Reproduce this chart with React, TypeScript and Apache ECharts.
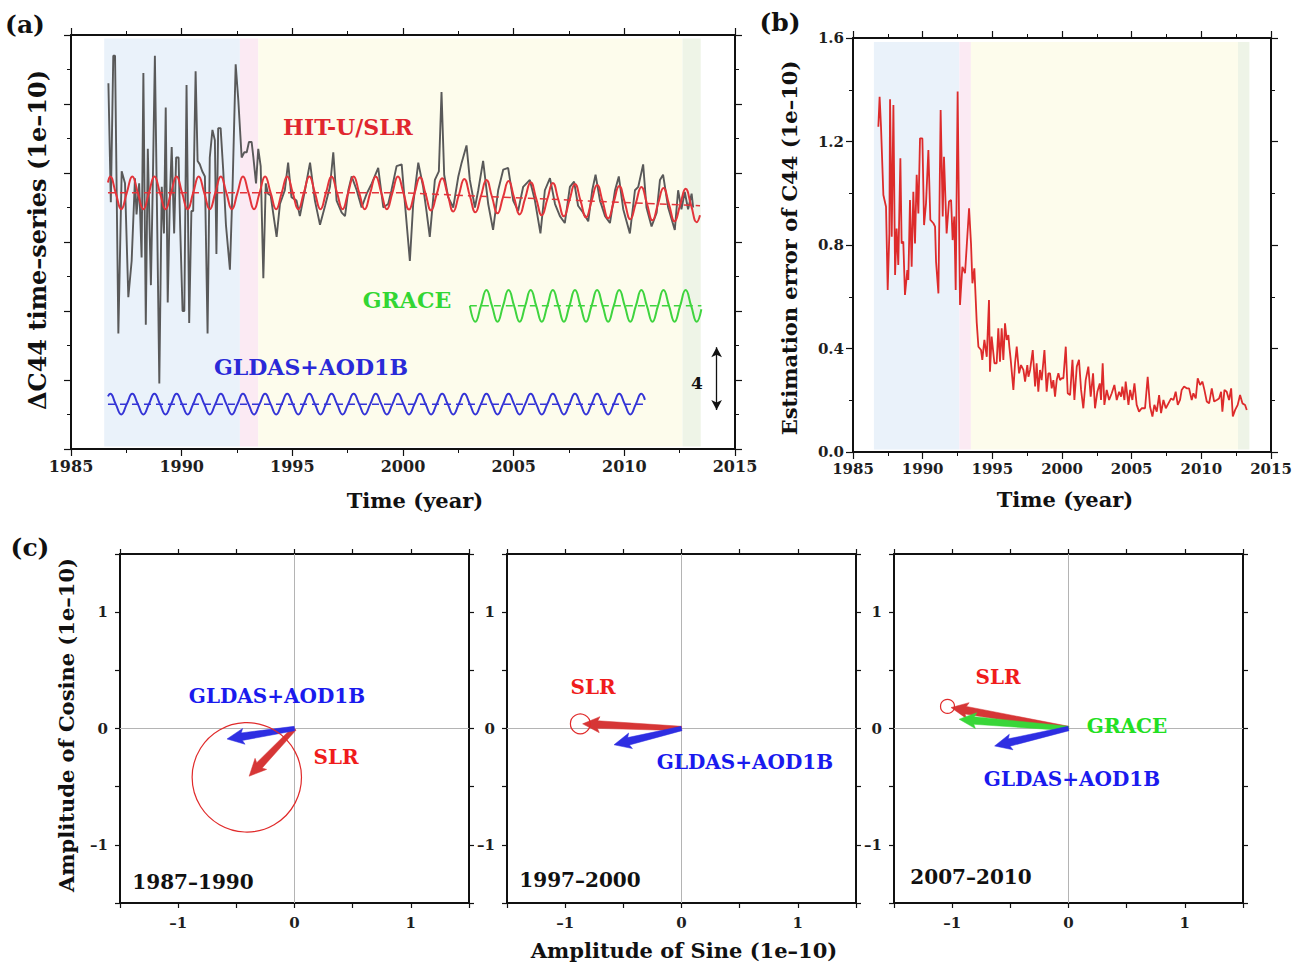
import React, { useEffect, useRef } from "react";
import * as echarts from "echarts";

const FONT = '"DejaVu Serif", "Liberation Serif", serif';

// ---------- Panel (a) data ----------
const grayYears = [
  1986.69, 1986.8, 1986.91, 1986.99, 1987.14, 1987.29, 1987.44, 1987.59, 1987.74, 1987.89,
  1987.96, 1988.08, 1988.19, 1988.27, 1988.38, 1988.47, 1988.61, 1988.7, 1988.79, 1988.9,
  1988.99, 1989.1, 1989.2, 1989.28, 1989.37, 1989.47, 1989.55, 1989.66, 1989.75, 1989.86,
  1989.93, 1990.04, 1990.12, 1990.22, 1990.34, 1990.44, 1990.52, 1990.63, 1990.72, 1990.82,
  1990.93, 1991.05, 1991.17, 1991.27, 1991.39, 1991.5, 1991.57, 1991.65, 1991.76, 1991.88,
  1992.0, 1992.18, 1992.3, 1992.44, 1992.56, 1992.71, 1992.83, 1992.94, 1993.04, 1993.16,
  1993.24, 1993.36, 1993.46, 1993.57, 1993.69, 1993.8, 1993.9, 1994.02, 1994.29, 1994.44,
  1994.66, 1994.81, 1994.96, 1995.19, 1995.34, 1995.57, 1995.8, 1996.02, 1996.25, 1996.48,
  1996.7, 1996.85, 1997.0, 1997.23, 1997.38, 1997.53, 1997.68, 1997.91, 1998.13, 1998.36,
  1998.59, 1998.88, 1999.11, 1999.33, 1999.48, 1999.71, 1999.94, 2000.09, 2000.31, 2000.46,
  2000.69, 2000.91, 2001.06, 2001.21, 2001.44, 2001.62, 2001.74, 2001.86, 2002.04, 2002.27,
  2002.5, 2002.65, 2002.87, 2003.02, 2003.25, 2003.4, 2003.62, 2003.85, 2004.07, 2004.3,
  2004.53, 2004.75, 2004.98, 2005.2, 2005.43, 2005.73, 2005.96, 2006.21, 2006.41, 2006.64,
  2006.87, 2007.09, 2007.31, 2007.54, 2007.73, 2007.91, 2008.14, 2008.37, 2008.55, 2008.7,
  2008.9, 2009.13, 2009.35, 2009.58, 2009.75, 2009.95, 2010.25, 2010.48, 2010.63, 2010.85,
  2011.0, 2011.23, 2011.46, 2011.61, 2011.75, 2011.98, 2012.28, 2012.43, 2012.58, 2012.73,
  2012.88, 2013.04, 2013.11,
];
const grayValues = [
  21.2, 14.3, 22.8, 22.8, 6.7, 16.1, 15.4, 8.8, 10.9, 15.7,
  13.6, 15.4, 11.1, 21.8, 7.2, 17.4, 9.5, 15.7, 22.8, 12.5,
  3.8, 15.2, 12.5, 19.8, 8.5, 14.7, 17.5, 12.5, 16.9, 16.9,
  13.0, 8.0, 8.0, 21.1, 7.3, 13.8, 13.8, 21.9, 16.7, 16.5,
  16.1, 15.8, 6.7, 16.9, 18.5, 17.9, 11.3, 18.6, 18.6, 16.1,
  13.0, 10.4, 15.2, 22.3, 20.2, 16.9, 17.2, 17.2, 17.8, 17.8,
  16.9, 15.4, 17.4, 16.4, 9.9, 15.4, 14.8, 14.7, 12.3, 14.2,
  15.0, 16.6, 14.6, 14.4, 13.5, 15.0, 16.6, 14.4, 13.0, 14.1,
  15.2, 17.2, 14.4, 13.7, 13.5, 15.0, 15.8, 15.0, 14.0, 14.8,
  15.4, 16.3, 14.0, 14.2, 15.0, 16.4, 16.5, 14.2, 10.9, 14.2,
  16.6, 15.2, 13.8, 12.3, 15.6, 16.1, 20.7, 15.9, 14.6, 14.0,
  15.8, 16.6, 17.6, 15.6, 14.0, 15.0, 16.7, 14.2, 12.7, 15.0,
  16.2, 16.3, 14.4, 13.8, 15.2, 15.6, 14.4, 12.5, 15.0, 15.7,
  14.2, 13.5, 13.1, 15.2, 15.5, 14.1, 13.7, 13.2, 15.0, 15.9,
  14.4, 13.5, 13.1, 15.0, 15.8, 13.9, 12.5, 15.0, 15.2, 16.5,
  14.0, 12.9, 13.7, 15.6, 15.9, 14.0, 12.7, 15.0, 13.9, 14.9,
  13.9, 14.8, 14.0,
];

// HIT-U/SLR fitted annual signal, quarterly samples from 1986.77
const redFirst = [1986.67, 15.45];
const redQuarterStart = 1986.77;
const redQuarterly = [
  15.8,
  14.85, 13.9, 14.85, 15.8, // 1987
  14.85, 13.9, 14.85, 15.8, // 1988
  14.85, 13.9, 14.85, 15.8, // 1989
  14.85, 13.9, 14.85, 15.8, // 1990
  14.85, 13.9, 14.85, 15.8, // 1991
  14.85, 13.9, 14.85, 15.8, // 1992
  14.85, 13.9, 14.85, 15.8, // 1993
  14.85, 13.9, 14.85, 15.8, // 1994
  14.85, 13.9, 14.85, 15.8, // 1995
  14.85, 13.9, 14.85, 15.8, // 1996
  14.85, 13.9, 14.85, 15.8, // 1997
  14.85, 13.9, 14.85, 15.8, // 1998
  14.85, 13.9, 14.85, 15.8, // 1999
  14.85, 13.88, 14.82, 15.76, // 2000
  14.79, 13.83, 14.76, 15.7, // 2001
  14.74, 13.77, 14.71, 15.65, // 2002
  14.68, 13.72, 14.65, 15.59, // 2003
  14.62, 13.66, 14.6, 15.53, // 2004
  14.57, 13.6, 14.54, 15.47, // 2005
  14.51, 13.55, 14.48, 15.42, // 2006
  14.45, 13.49, 14.42, 15.36, // 2007
  14.4, 13.43, 14.37, 15.3, // 2008
  14.34, 13.37, 14.31, 15.25, // 2009
  14.28, 13.32, 14.25, 15.19, // 2010
  14.23, 13.26, 14.2, 15.13, // 2011
  14.17, 13.2, 14.14, 15.08, // 2012
  14.11, 13.15, // 2013
];
const redLast = [2013.42, 13.55];
const redTrendYears = [1986.67, 2000.0, 2013.42];
const redTrendValues = [14.85, 14.85, 14.1];

// GLDAS+AOD1B annual signal, quarterly from 1986.77
const blueFirst = [1986.67, 3.05];
const blueQuarterStart = 1986.77;
const blueQuarterly = [
  3.2,
  2.6, 2.0, 2.6, 3.2, 2.6, 2.0, 2.6, 3.2, 2.6, 2.0, 2.6, 3.2, 2.6, 2.0, 2.6, 3.2, // 1987-1990
  2.6, 2.0, 2.6, 3.2, 2.6, 2.0, 2.6, 3.2, 2.6, 2.0, 2.6, 3.2, 2.6, 2.0, 2.6, 3.2, // 1991-1994
  2.6, 2.0, 2.6, 3.2, 2.6, 2.0, 2.6, 3.2, 2.6, 2.0, 2.6, 3.2, 2.6, 2.0, 2.6, 3.2, // 1995-1998
  2.6, 2.0, 2.6, 3.2, 2.6, 2.0, 2.6, 3.2, 2.6, 2.0, 2.6, 3.2, 2.6, 2.0, 2.6, 3.2, // 1999-2002
  2.6, 2.0, 2.6, 3.2, 2.6, 2.0, 2.6, 3.2, 2.6, 2.0, 2.6, 3.2, 2.6, 2.0, 2.6, 3.2, // 2003-2006
  2.6, 2.0, 2.6, 3.2, 2.6, 2.0, 2.6, 3.2, 2.6, 2.0, 2.6, 3.2, 2.6, 2.0, 2.6, 3.2, // 2007-2010
];
const blueLast = [2010.93, 2.85];
const blueTrendYears = [1986.67, 2010.93];
const blueTrendValues = [2.6, 2.6];

// GRACE annual signal, quarterly from 2003.02
const greenQuarterStart = 2003.02;
const greenQuarterly = [
  8.3, 7.38, 8.3, 9.22, 8.3, 7.38, 8.3, 9.22, 8.3, 7.38, 8.3, 9.22, // 2003-2005
  8.3, 7.38, 8.3, 9.22, 8.3, 7.38, 8.3, 9.22, 8.3, 7.38, 8.3, 9.22, // 2006-2008
  8.3, 7.38, 8.3, 9.22, 8.3, 7.38, 8.3, 9.22, 8.3, 7.38, 8.3, 9.22, // 2009-2011
  8.3, 7.38, 8.3, 9.22, 8.3, 7.38, // 2012-2013.27
];
const greenLast = [2013.48, 8.1];
const greenTrendYears = [2003.02, 2013.48];
const greenTrendValues = [8.3, 8.3];

// Shaded periods
const bandStarts = [1986.5, 1992.63, 1993.46, 2012.63];
const bandEnds = [1992.63, 1993.46, 2012.63, 2013.45];
const bandColors = ["#eaf2fa", "#fbeaf3", "#fdfcec", "#eef4e7"];

// ---------- Panel (b) data ----------
const errYears = [
  1986.82, 1986.91, 1987.01, 1987.18, 1987.37, 1987.49, 1987.61, 1987.66, 1987.78, 1987.9,
  1988.02, 1988.13, 1988.25, 1988.4, 1988.49, 1988.61, 1988.73, 1988.9, 1988.97, 1989.09,
  1989.21, 1989.33, 1989.45, 1989.57, 1989.69, 1989.81, 1989.98, 1990.1, 1990.24, 1990.41,
  1990.55, 1990.77, 1990.89, 1990.96, 1991.13, 1991.29, 1991.44, 1991.53, 1991.72, 1991.89,
  1992.04, 1992.15, 1992.27, 1992.37, 1992.51, 1992.68, 1992.85, 1993.04, 1993.16, 1993.33,
  1993.47, 1993.57, 1993.71, 1993.88, 1994.0, 1994.19, 1994.28, 1994.43, 1994.6, 1994.76,
  1994.83, 1994.95, 1995.15, 1995.31, 1995.43, 1995.55, 1995.67, 1995.79, 1995.91, 1996.03,
  1996.15, 1996.22, 1996.32, 1996.51, 1996.63, 1996.75, 1996.92, 1997.06, 1997.23, 1997.35,
  1997.51, 1997.59, 1997.71, 1997.9, 1998.07, 1998.18, 1998.3, 1998.42, 1998.54, 1998.74,
  1998.9, 1999.02, 1999.14, 1999.26, 1999.38, 1999.5, 1999.62, 1999.74, 1999.86, 1999.98,
  2000.1, 2000.27, 2000.41, 2000.58, 2000.75, 2000.89, 2001.06, 2001.22, 2001.37, 2001.53,
  2001.7, 2001.89, 2002.06, 2002.23, 2002.37, 2002.54, 2002.71, 2002.8, 2002.92, 2003.04,
  2003.21, 2003.38, 2003.57, 2003.76, 2003.93, 2004.1, 2004.24, 2004.33, 2004.48, 2004.57,
  2004.77, 2004.89, 2005.05, 2005.2, 2005.36, 2005.53, 2005.72, 2005.96, 2006.15, 2006.32,
  2006.49, 2006.63, 2006.8, 2006.97, 2007.11, 2007.28, 2007.45, 2007.64, 2007.83, 2008.0,
  2008.16, 2008.31, 2008.47, 2008.59, 2008.76, 2008.95, 2009.12, 2009.31, 2009.43, 2009.6,
  2009.74, 2009.91, 2010.08, 2010.22, 2010.39, 2010.56, 2010.75, 2010.92, 2011.11, 2011.27,
  2011.42, 2011.51, 2011.66, 2011.82, 2011.99, 2012.14, 2012.26, 2012.42, 2012.61, 2012.78,
  2012.95, 2013.14, 2013.26,
];
const errValues = [
  1.257, 1.373, 1.257, 0.993, 0.948, 0.626, 0.845, 1.363, 0.832, 1.341,
  0.684, 0.864, 0.723, 1.135, 0.806, 0.813, 0.607, 0.703, 0.665, 0.974,
  0.716, 1.006, 0.806, 1.071, 0.922, 1.212, 1.212, 0.877, 0.961, 1.167,
  0.897, 0.884, 0.871, 0.736, 0.613, 1.322, 0.91, 1.141, 0.845, 0.968,
  0.974, 0.819, 0.91, 0.626, 1.393, 0.568, 0.716, 0.691, 0.794, 0.942,
  0.806, 0.652, 0.71, 0.5, 0.407, 0.394, 0.356, 0.433, 0.368, 0.587,
  0.31, 0.446, 0.343, 0.343, 0.478, 0.349, 0.478, 0.356, 0.497, 0.433,
  0.452, 0.407, 0.356, 0.24, 0.343, 0.407, 0.304, 0.336, 0.317, 0.272,
  0.336, 0.291, 0.317, 0.394, 0.253, 0.343, 0.233, 0.317, 0.278, 0.394,
  0.233, 0.304, 0.304, 0.246, 0.278, 0.214, 0.278, 0.304, 0.278, 0.285,
  0.285, 0.407, 0.227, 0.22, 0.356, 0.201, 0.33, 0.356, 0.24, 0.169,
  0.278, 0.33, 0.214, 0.304, 0.169, 0.233, 0.265, 0.201, 0.343, 0.182,
  0.24, 0.201, 0.227, 0.259, 0.201, 0.233, 0.214, 0.253, 0.201, 0.272,
  0.182, 0.24, 0.201, 0.265, 0.182, 0.156, 0.169, 0.169, 0.291, 0.175,
  0.137, 0.182, 0.156, 0.22, 0.15, 0.201, 0.169, 0.188, 0.207, 0.201,
  0.233, 0.182, 0.201, 0.24, 0.253, 0.246, 0.246, 0.201, 0.227, 0.207,
  0.285, 0.259, 0.272, 0.24, 0.195, 0.188, 0.246, 0.195, 0.201, 0.207,
  0.233, 0.156, 0.24, 0.233, 0.201, 0.246, 0.137, 0.162, 0.182, 0.22,
  0.188, 0.182, 0.162,
];

// ---------- Panel (c) data: phasor tips [sine, cosine] ----------
const periodLabels = ["1987–1990", "1997–2000", "2007–2010"];
const slrTips = [[-0.39, -0.41], [-0.85, 0.04], [-1.01, 0.18]];
const slrErrRadius = [0.47, 0.085, 0.06];
const slrErrCenter = [[-0.41, -0.42], [-0.87, 0.04], [-1.04, 0.19]];
const gldasTips = [[-0.58, -0.09], [-0.58, -0.14], [-0.635, -0.15]];
const graceTips = [null, null, [-0.94, 0.08]];

const C_RED = "#e3343a";
const C_BLUE = "#3434d6";
const C_GREEN = "#3fd43f";
const ARROW_RED = "#d63636";
const ARROW_BLUE = "#2e2ee2";
const ARROW_GREEN = "#39d639";

function quarterly(start: number, vals: number[]) {
  return vals.map((v, i) => [start + i * 0.25, v]);
}
function pairs(xs: number[], ys: number[]) {
  return xs.map((x, i) => [x, ys[i]]);
}

function axisCommon(fontSize: number) {
  return {
    type: "value",
    axisLine: { show: true, onZero: false, lineStyle: { color: "#111", width: 2 } },
    axisTick: { show: true, length: 7, lineStyle: { color: "#111", width: 1.2 } },
    splitLine: { show: false },
    minorSplitLine: { show: false },
    axisLabel: {
      fontFamily: FONT,
      fontWeight: "bold",
      fontSize,
      color: "#1e1e1e",
      margin: 9,
    },
  } as any;
}

function timeX(gridIndex: number, position: string, showLabel: boolean, fontSize: number) {
  const a = axisCommon(fontSize);
  return {
    ...a,
    gridIndex,
    position,
    min: 1985,
    max: 2015,
    interval: 5,
    minorTick: { show: true, splitNumber: 2, length: 4, lineStyle: { color: "#111", width: 1 } },
    axisLabel: { ...a.axisLabel, show: showLabel, formatter: (v: number) => String(Math.round(v)) },
  };
}

const intLabel = (v: number) => {
  if (Math.abs(v - Math.round(v)) > 1e-6) return "";
  const r = Math.round(v);
  return r < 0 ? "–" + -r : String(r);
};

function phasorAxis(gridIndex: number, position: string, showLabel: boolean) {
  const a = axisCommon(15);
  return {
    ...a,
    gridIndex,
    position,
    min: -1.5,
    max: 1.5,
    interval: 0.5,
    axisTick: { show: true, length: 5, lineStyle: { color: "#111", width: 1.2 } },
    axisLabel: { ...a.axisLabel, show: showLabel, formatter: intLabel, margin: 12 },
  };
}

function text(t: string, x: number, y: number, size: number, color = "#111", rotate = false, weight = "bold") {
  return {
    type: "text",
    x,
    y,
    rotation: rotate ? Math.PI / 2 : 0,
    silent: true,
    style: {
      text: t,
      fill: color,
      font: `${weight} ${size}px ${FONT}`,
      align: "center",
      verticalAlign: "middle",
    },
    z: 100,
  };
}

function bandSeries(xi: number, yi: number, yLow: number, yHigh: number) {
  return {
    type: "custom",
    xAxisIndex: xi,
    yAxisIndex: yi,
    silent: true,
    z: 0,
    renderItem: (params: any, api: any) => {
      const p0 = api.coord([api.value(0), api.value(3)]);
      const p1 = api.coord([api.value(1), api.value(2)]);
      return {
        type: "rect",
        shape: { x: p0[0], y: p0[1], width: p1[0] - p0[0], height: p1[1] - p0[1] },
        style: { fill: bandColors[params.dataIndex] },
      };
    },
    data: bandStarts.map((s, i) => [s, bandEnds[i], yLow, yHigh]),
  };
}

function arrowSeries(gi: number, tip: number[], color: string, z: number) {
  return {
    type: "custom",
    xAxisIndex: gi * 2 + 4,
    yAxisIndex: gi * 2 + 4,
    silent: true,
    z,
    renderItem: (_p: any, api: any) => {
      const p0 = api.coord([0, 0]);
      const p1 = api.coord([api.value(0), api.value(1)]);
      const dx = p1[0] - p0[0];
      const dy = p1[1] - p0[1];
      const L = Math.hypot(dx, dy) || 1;
      const ux = dx / L, uy = dy / L;
      const nx = -uy, ny = ux;
      const headL = 15, headW = 8, w0 = 2.2, w1 = 3.8;
      const bx = p1[0] - ux * headL, by = p1[1] - uy * headL;
      const pts = [
        [p0[0] + nx * w0, p0[1] + ny * w0],
        [bx + nx * w1, by + ny * w1],
        [bx + nx * headW - ux * 2, by + ny * headW - uy * 2],
        [p1[0], p1[1]],
        [bx - nx * headW - ux * 2, by - ny * headW - uy * 2],
        [bx - nx * w1, by - ny * w1],
        [p0[0] - nx * w0, p0[1] - ny * w0],
      ];
      return {
        type: "polygon",
        shape: { points: pts },
        style: { fill: color, stroke: color, lineWidth: 0.5 },
      };
    },
    data: [tip],
  };
}

function circleSeries(gi: number, center: number[], r: number) {
  return {
    type: "custom",
    xAxisIndex: gi * 2 + 4,
    yAxisIndex: gi * 2 + 4,
    silent: true,
    z: 10,
    renderItem: (_p: any, api: any) => {
      const c = api.coord([api.value(0), api.value(1)]);
      const rp = api.size([api.value(2), 0])[0];
      return {
        type: "circle",
        shape: { cx: c[0], cy: c[1], r: rp },
        style: { fill: "none", stroke: "#e02a2a", lineWidth: 1.2 },
      };
    },
    data: [[center[0], center[1], r]],
  };
}

function crossSeries(gi: number) {
  const base = {
    type: "line",
    xAxisIndex: gi * 2 + 4,
    yAxisIndex: gi * 2 + 4,
    showSymbol: false,
    silent: true,
    z: 1,
    lineStyle: { color: "#b4b4b4", width: 1 },
  };
  return [
    { ...base, data: [[-1.5, 0], [1.5, 0]] },
    { ...base, data: [[0, -1.5], [0, 1.5]] },
  ];
}

function buildOption() {
  const grids = [
    { left: 71, top: 35, width: 664, height: 414 },
    { left: 853, top: 38, width: 418, height: 414 },
    { left: 120, top: 554, width: 349, height: 349 },
    { left: 507, top: 554, width: 349, height: 349 },
    { left: 894, top: 554, width: 349, height: 349 },
  ];

  const xAxis: any[] = [
    timeX(0, "bottom", true, 16),
    timeX(0, "top", false, 16),
    timeX(1, "bottom", true, 15),
    timeX(1, "top", false, 15),
  ];
  const yA = axisCommon(15);
  const yAxis: any[] = [
    {
      ...yA, gridIndex: 0, position: "left", min: 0, max: 24, interval: 4,
      minorTick: { show: true, splitNumber: 2, length: 4, lineStyle: { color: "#111", width: 1 } },
      axisLabel: { show: false },
    },
    {
      ...yA, gridIndex: 0, position: "right", min: 0, max: 24, interval: 4,
      minorTick: { show: true, splitNumber: 2, length: 4, lineStyle: { color: "#111", width: 1 } },
      axisLabel: { show: false },
    },
    {
      ...yA, gridIndex: 1, position: "left", min: 0, max: 1.6, interval: 0.4,
      minorTick: { show: true, splitNumber: 2, length: 4, lineStyle: { color: "#111", width: 1 } },
      axisLabel: { ...yA.axisLabel, formatter: (v: number) => v.toFixed(1) },
    },
    {
      ...yA, gridIndex: 1, position: "right", min: 0, max: 1.6, interval: 0.4,
      minorTick: { show: true, splitNumber: 2, length: 4, lineStyle: { color: "#111", width: 1 } },
      axisLabel: { show: false },
    },
  ];
  for (let g = 0; g < 3; g++) {
    xAxis.push(phasorAxis(g + 2, "bottom", true));
    xAxis.push(phasorAxis(g + 2, "top", false));
    yAxis.push(phasorAxis(g + 2, "left", true));
    yAxis.push(phasorAxis(g + 2, "right", false));
  }

  const lineBase = { type: "line", showSymbol: false, silent: true, animation: false };

  const series: any[] = [
    bandSeries(0, 0, 0.15, 23.8),
    bandSeries(2, 2, 0.01, 1.585),
    // gray data
    {
      ...lineBase, xAxisIndex: 0, yAxisIndex: 0, z: 2,
      lineStyle: { color: "#595959", width: 1.9 },
      data: pairs(grayYears, grayValues),
    },
    // red fitted
    {
      ...lineBase, xAxisIndex: 0, yAxisIndex: 0, z: 3, smooth: true,
      lineStyle: { color: C_RED, width: 2 },
      data: [redFirst, ...quarterly(redQuarterStart, redQuarterly), redLast],
    },
    {
      ...lineBase, xAxisIndex: 0, yAxisIndex: 0, z: 3,
      lineStyle: { color: C_RED, width: 1.5, type: [7, 5] },
      data: pairs(redTrendYears, redTrendValues),
    },
    // blue
    {
      ...lineBase, xAxisIndex: 0, yAxisIndex: 0, z: 3, smooth: true,
      lineStyle: { color: C_BLUE, width: 2 },
      data: [blueFirst, ...quarterly(blueQuarterStart, blueQuarterly), blueLast],
    },
    {
      ...lineBase, xAxisIndex: 0, yAxisIndex: 0, z: 3,
      lineStyle: { color: C_BLUE, width: 1.5, type: [7, 5] },
      data: pairs(blueTrendYears, blueTrendValues),
    },
    // green
    {
      ...lineBase, xAxisIndex: 0, yAxisIndex: 0, z: 3, smooth: true,
      lineStyle: { color: C_GREEN, width: 2 },
      data: [...quarterly(greenQuarterStart, greenQuarterly), greenLast],
    },
    {
      ...lineBase, xAxisIndex: 0, yAxisIndex: 0, z: 3,
      lineStyle: { color: C_GREEN, width: 1.5, type: [7, 5] },
      data: pairs(greenTrendYears, greenTrendValues),
    },
    // scale arrow "4"
    {
      ...lineBase, xAxisIndex: 0, yAxisIndex: 0, z: 4, data: [],
      markLine: {
        silent: true,
        symbol: ["arrow", "arrow"],
        symbolSize: [8, 10],
        label: { show: false },
        lineStyle: { color: "#111", width: 1.3, type: "solid" },
        data: [[{ coord: [2014.17, 2.26] }, { coord: [2014.17, 5.9] }]],
      },
    },
    // panel (b)
    {
      ...lineBase, xAxisIndex: 2, yAxisIndex: 2, z: 3,
      lineStyle: { color: "#dd2b2b", width: 1.8 },
      data: pairs(errYears, errValues),
    },
  ];

  for (let g = 0; g < 3; g++) {
    series.push(...crossSeries(g));
    series.push(arrowSeries(g, slrTips[g], ARROW_RED, 5));
    const gt = graceTips[g];
    if (gt) series.push(arrowSeries(g, gt, ARROW_GREEN, 6));
    series.push(arrowSeries(g, gldasTips[g], ARROW_BLUE, 7));
    series.push(circleSeries(g, slrErrCenter[g], slrErrRadius[g]));
  }

  const graphic: any[] = [
    text("(a)", 25, 24, 25),
    text("(b)", 780, 22, 25),
    text("(c)", 30, 547, 25),
    text("ΔC44 time–series (1e–10)", 37, 240, 24, "#111", true),
    text("Time (year)", 415, 500, 21),
    text("Estimation error of C44 (1e–10)", 789, 248, 21, "#111", true),
    text("Time (year)", 1065, 499, 21),
    text("Amplitude of Cosine (1e–10)", 66, 725, 21, "#111", true),
    text("Amplitude of Sine (1e–10)", 684, 950, 21),
    text("HIT-U/SLR", 348, 127, 22, "#e0262e"),
    text("GRACE", 407, 300, 22, "#33d633"),
    text("GLDAS+AOD1B", 311, 367, 22, "#2a2ad8"),
    text("4", 697, 383, 17),
    text("GLDAS+AOD1B", 277, 696, 20, "#1a1aee"),
    text("SLR", 336, 757, 20, "#f01c1c"),
    text(periodLabels[0], 193, 882, 20),
    text("SLR", 593, 687, 20, "#f01c1c"),
    text("GLDAS+AOD1B", 745, 762, 20, "#1a1aee"),
    text(periodLabels[1], 580, 880, 20),
    text("SLR", 998, 677, 20, "#f01c1c"),
    text("GRACE", 1127, 726, 20, "#22e022"),
    text("GLDAS+AOD1B", 1072, 779, 20, "#1a1aee"),
    text(periodLabels[2], 971, 877, 20),
  ];

  return {
    animation: false,
    backgroundColor: "#ffffff",
    grid: grids,
    xAxis,
    yAxis,
    series,
    graphic,
  };
}

export default function App() {
  const ref = useRef<HTMLDivElement>(null);
  useEffect(() => {
    document.body.style.margin = "0";
    const chart = echarts.init(ref.current!, null, { renderer: "svg" });
    chart.setOption(buildOption() as any);
    return () => chart.dispose();
  }, []);
  return <div ref={ref} style={{ width: 1310, height: 970 }} />;
}
